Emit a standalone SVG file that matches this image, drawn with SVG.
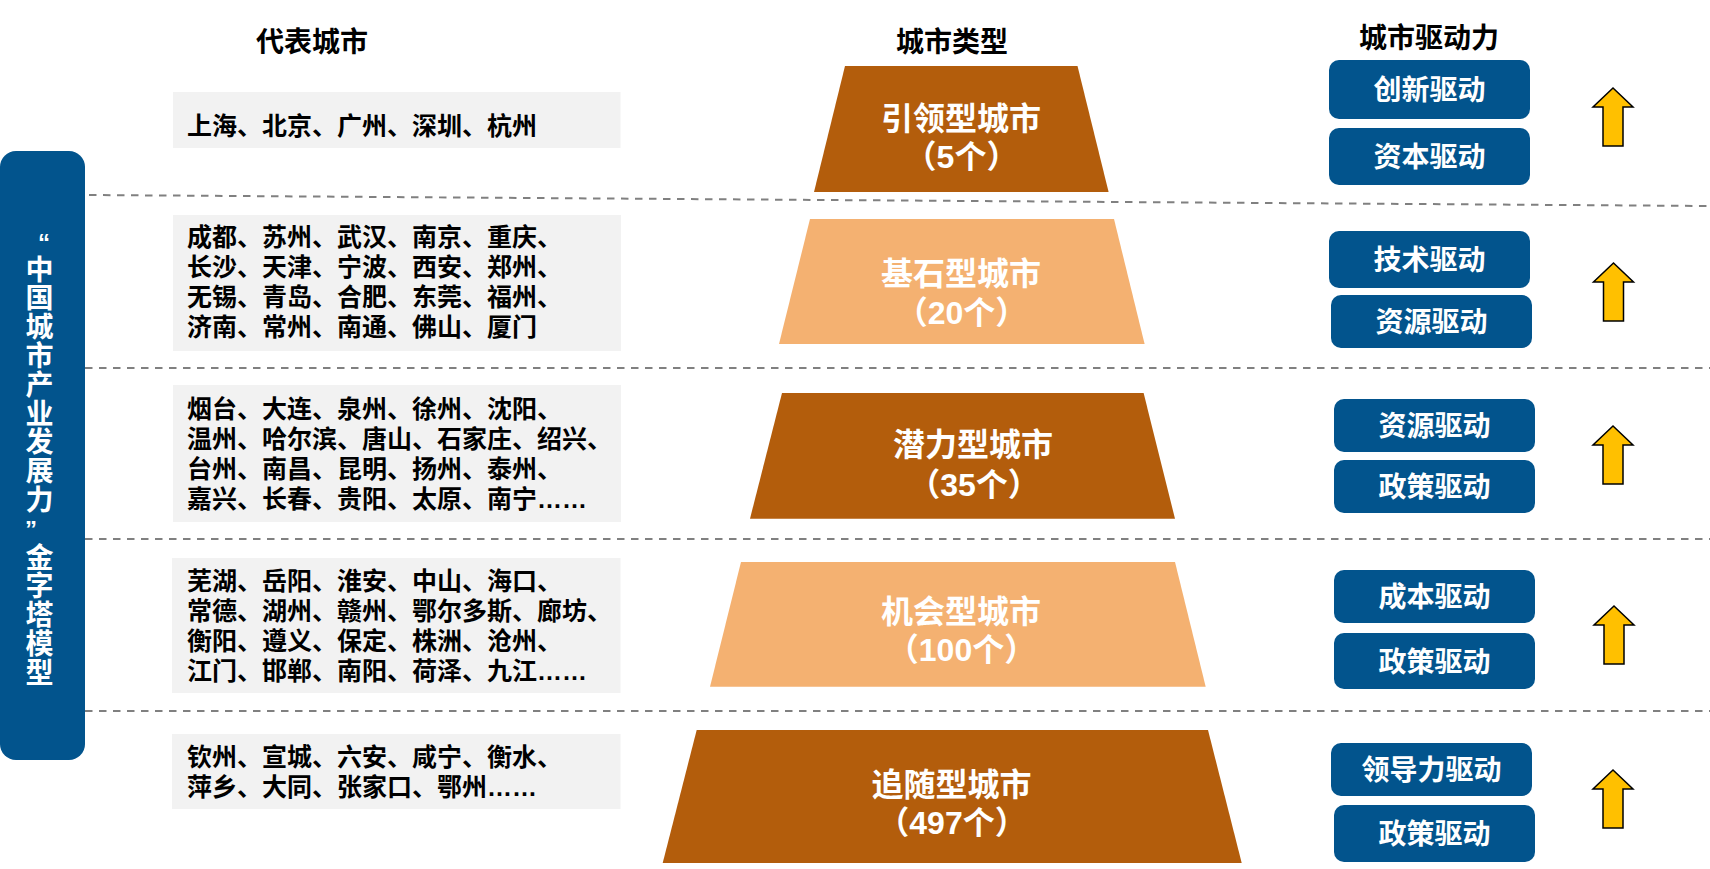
<svg xmlns="http://www.w3.org/2000/svg" width="1710" height="869" viewBox="0 0 1710 869">
<style>
.hdr{font-family:"Liberation Sans","Noto Sans CJK SC",sans-serif;font-weight:bold;font-size:28px;fill:#000;text-anchor:middle}
.list{font-family:"Liberation Sans","Noto Sans CJK SC",sans-serif;font-weight:bold;font-size:25px;fill:#000}
.box{fill:#F2F2F2}
.dark{fill:#B35D0C}
.light{fill:#F4B171}
.tz{font-family:"Liberation Sans","Noto Sans CJK SC",sans-serif;font-weight:bold;font-size:32px;fill:#fff;text-anchor:middle}
.btn{fill:#02548D}
.btxt{font-family:"Liberation Sans","Noto Sans CJK SC",sans-serif;font-weight:bold;font-size:28px;fill:#fff;text-anchor:middle}
.vt{font-family:"Liberation Sans","Noto Sans CJK SC",sans-serif;font-weight:bold;font-size:28px;fill:#fff;text-anchor:middle}
.q{font-family:"Liberation Sans",sans-serif;font-weight:bold;font-size:24px;fill:#fff}
.dash{stroke:#808080;stroke-width:2;stroke-dasharray:7.5 6.5;fill:none}
.arr{fill:#FFC000;stroke:#000;stroke-width:1.5;stroke-linejoin:miter}
</style>
<defs>
<path id="up" d="M0,0 L20,19 L10,19 L10,58 L-10,58 L-10,19 L-20,19 Z"/>
</defs>
<rect width="1710" height="869" fill="#fff"/>

<g id="separators">
<line class="dash" x1="89" y1="195" x2="1710" y2="206"/>
<line class="dash" x1="85" y1="368" x2="1710" y2="368"/>
<line class="dash" x1="85" y1="539" x2="1710" y2="539"/>
<line class="dash" x1="85" y1="711" x2="1710" y2="711"/>
</g>

<g id="headers">
<text class="hdr" x="312" y="52">代表城市</text>
<text class="hdr" x="952" y="52">城市类型</text>
<text class="hdr" x="1429" y="48">城市驱动力</text>
</g>

<g id="model-label">
<rect x="0" y="151" width="85" height="609" rx="16" fill="#02548D"/>
<text class="q" x="38" y="251">“</text>
<text class="vt">
<tspan x="39.5" y="279.6">中</tspan><tspan x="39.5" y="308.4">国</tspan><tspan x="39.5" y="337.2">城</tspan><tspan x="39.5" y="366">市</tspan><tspan x="39.5" y="394.8">产</tspan><tspan x="39.5" y="423.6">业</tspan><tspan x="39.5" y="452.4">发</tspan><tspan x="39.5" y="481.2">展</tspan><tspan x="39.5" y="510">力</tspan><tspan x="39.5" y="567.6">金</tspan><tspan x="39.5" y="596.4">字</tspan><tspan x="39.5" y="625.2">塔</tspan><tspan x="39.5" y="654">模</tspan><tspan x="39.5" y="682.8">型</tspan>
</text>
<text class="q" x="25" y="537.5">”</text>
</g>

<g id="cities-1">
<rect class="box" x="173" y="92" width="447.5" height="56"/>
<text class="list" x="187" y="135">上海、北京、广州、深圳、杭州</text>
</g>
<g id="cities-2">
<rect class="box" x="173" y="215" width="448" height="136"/>
<text class="list" x="187" y="246">成都、苏州、武汉、南京、重庆、</text>
<text class="list" x="187" y="276">长沙、天津、宁波、西安、郑州、</text>
<text class="list" x="187" y="306">无锡、青岛、合肥、东莞、福州、</text>
<text class="list" x="187" y="336">济南、常州、南通、佛山、厦门</text>
</g>
<g id="cities-3">
<rect class="box" x="173" y="385" width="448" height="137"/>
<text class="list" x="187" y="418">烟台、大连、泉州、徐州、沈阳、</text>
<text class="list" x="187" y="448">温州、哈尔滨、唐山、石家庄、绍兴、</text>
<text class="list" x="187" y="478">台州、南昌、昆明、扬州、泰州、</text>
<text class="list" x="187" y="508">嘉兴、长春、贵阳、太原、南宁……</text>
</g>
<g id="cities-4">
<rect class="box" x="172" y="558" width="448.5" height="135"/>
<text class="list" x="187" y="590">芜湖、岳阳、淮安、中山、海口、</text>
<text class="list" x="187" y="620">常德、湖州、赣州、鄂尔多斯、廊坊、</text>
<text class="list" x="187" y="650">衡阳、遵义、保定、株洲、沧州、</text>
<text class="list" x="187" y="680">江门、邯郸、南阳、荷泽、九江……</text>
</g>
<g id="cities-5">
<rect class="box" x="172" y="734" width="448.5" height="75"/>
<text class="list" x="187" y="766">钦州、宣城、六安、咸宁、衡水、</text>
<text class="list" x="187" y="796">萍乡、大同、张家口、鄂州……</text>
</g>

<g id="tier-1">
<polygon class="dark" points="845,66 1077.5,66 1108.6,192 814,192"/>
<text class="tz" x="961" y="130">引领型城市</text>
<text class="tz" x="961.5" y="168">（5个）</text>
</g>
<g id="tier-2">
<polygon class="light" points="810,219 1114,219 1144.6,344 779,344"/>
<text class="tz" x="961" y="285">基石型城市</text>
<text class="tz" x="961.5" y="324">（20个）</text>
</g>
<g id="tier-3">
<polygon class="dark" points="782,393 1143.6,393 1175,518.7 750,518.7"/>
<text class="tz" x="973" y="456">潜力型城市</text>
<text class="tz" x="974" y="496">（35个）</text>
</g>
<g id="tier-4">
<polygon class="light" points="741,562 1175,562 1205.7,686.7 710,686.7"/>
<text class="tz" x="961" y="623">机会型城市</text>
<text class="tz" x="961.5" y="661">（100个）</text>
</g>
<g id="tier-5">
<polygon class="dark" points="696.7,730 1208,730 1241.7,863 662.7,863"/>
<text class="tz" x="951.5" y="796">追随型城市</text>
<text class="tz" x="952" y="834">（497个）</text>
</g>

<g id="drivers-1">
<rect class="btn" x="1329" y="60" width="201" height="59" rx="10"/>
<text class="btxt" x="1429.5" y="100">创新驱动</text>
<rect class="btn" x="1329" y="128" width="201" height="57" rx="10"/>
<text class="btxt" x="1429.5" y="167">资本驱动</text>
</g>
<g id="drivers-2">
<rect class="btn" x="1329" y="231" width="201" height="57" rx="10"/>
<text class="btxt" x="1429.5" y="270">技术驱动</text>
<rect class="btn" x="1331" y="295" width="201" height="53" rx="10"/>
<text class="btxt" x="1431.5" y="332">资源驱动</text>
</g>
<g id="drivers-3">
<rect class="btn" x="1334" y="399" width="201" height="53" rx="10"/>
<text class="btxt" x="1434.5" y="436">资源驱动</text>
<rect class="btn" x="1334" y="460" width="201" height="53" rx="10"/>
<text class="btxt" x="1434.5" y="497">政策驱动</text>
</g>
<g id="drivers-4">
<rect class="btn" x="1334" y="570" width="201" height="53" rx="10"/>
<text class="btxt" x="1434.5" y="607">成本驱动</text>
<rect class="btn" x="1334" y="633" width="201" height="56" rx="10"/>
<text class="btxt" x="1434.5" y="671.5">政策驱动</text>
</g>
<g id="drivers-5">
<rect class="btn" x="1331" y="743" width="201" height="53" rx="10"/>
<text class="btxt" x="1431.5" y="780">领导力驱动</text>
<rect class="btn" x="1334" y="805" width="201" height="57" rx="10"/>
<text class="btxt" x="1434.5" y="844">政策驱动</text>
</g>

<g id="arrows">
<use href="#up" class="arr" x="1613" y="88"/>
<use href="#up" class="arr" x="1613.5" y="263"/>
<use href="#up" class="arr" x="1613" y="426"/>
<use href="#up" class="arr" x="1614" y="606"/>
<use href="#up" class="arr" x="1613" y="770"/>
</g>
</svg>
